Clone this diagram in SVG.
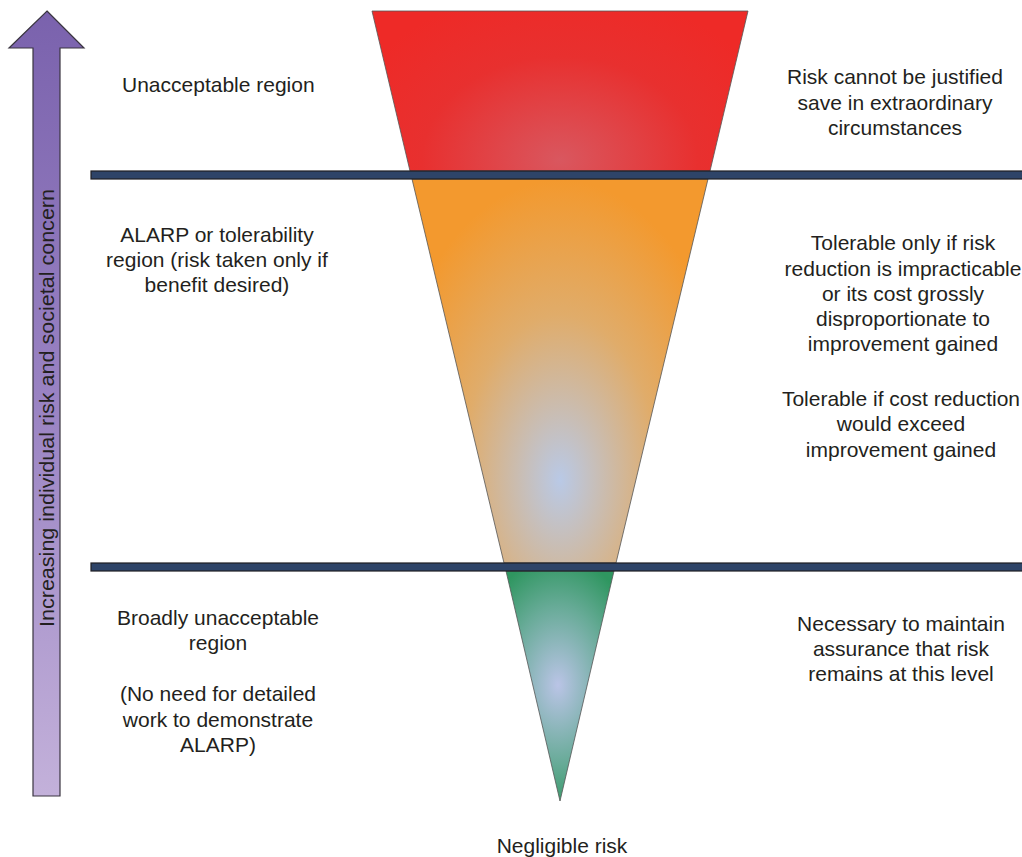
<svg xmlns="http://www.w3.org/2000/svg" width="1022" height="857" viewBox="0 0 1022 857">
<defs>
<style>
.t{font-family:"Liberation Sans",Arial,sans-serif;font-size:21px;fill:#231f20}
.c{text-anchor:middle}
.bar{fill:#2e4468;stroke:#1e1e24;stroke-width:1.2}
.cone{stroke:#555;stroke-width:0.8}
</style>
<radialGradient id="gRed" cx="560" cy="160" r="230" gradientUnits="userSpaceOnUse" gradientTransform="translate(560 160) scale(1 0.75) translate(-560 -160)">
<stop offset="0" stop-color="#d9575f"/>
<stop offset="0.6" stop-color="#e8302f"/>
<stop offset="1" stop-color="#ee2a27"/>
</radialGradient>
<radialGradient id="gOr" cx="560" cy="480" r="300" gradientUnits="userSpaceOnUse" gradientTransform="translate(560 480) scale(0.6 1) translate(-560 -480)">
<stop offset="0" stop-color="#b9c9e6"/>
<stop offset="0.55" stop-color="#e0ac6a"/>
<stop offset="1" stop-color="#f3992e"/>
</radialGradient>
<radialGradient id="gGr" cx="558" cy="685" r="130" gradientUnits="userSpaceOnUse" gradientTransform="translate(558 685) scale(0.65 1) translate(-558 -685)">
<stop offset="0" stop-color="#bac4e6"/>
<stop offset="0.6" stop-color="#68ab98"/>
<stop offset="1" stop-color="#2f9660"/>
</radialGradient>
<linearGradient id="gArr" x1="0" y1="11" x2="0" y2="796" gradientUnits="userSpaceOnUse">
<stop offset="0" stop-color="#7a62ad"/>
<stop offset="0.5" stop-color="#9a83c3"/>
<stop offset="1" stop-color="#c3b1da"/>
</linearGradient>
</defs>

<g id="arrow">
<polygon points="47,11 84,48 60,48 60,796 33,796 33,48 9,48" fill="url(#gArr)" stroke="#3a3540" stroke-width="1.2"/>
<text class="t c" transform="translate(54 408) rotate(-90)" textLength="438" lengthAdjust="spacingAndGlyphs">Increasing individual risk and societal concern</text>
</g>

<g id="cone">
<polygon id="red" class="cone" points="372,11 748,11 710,171 410,171" fill="url(#gRed)"/>
<polygon id="orange" class="cone" points="412,179 708,179 616,563 504,563" fill="url(#gOr)"/>
<polygon id="green" class="cone" points="506,571 614,571 560,801" fill="url(#gGr)"/>
</g>

<g id="bars">
<rect class="bar" x="91" y="171" width="932" height="8"/>
<rect class="bar" x="91" y="563" width="932" height="8"/>
</g>

<g id="left-texts">
<text class="t" x="122" y="92">Unacceptable region</text>
<text class="t c" x="217" y="242">ALARP or tolerability</text>
<text class="t c" x="217" y="267">region (risk taken only if</text>
<text class="t c" x="217" y="292">benefit desired)</text>
<text class="t c" x="218" y="625">Broadly unacceptable</text>
<text class="t c" x="218" y="650">region</text>
<text class="t c" x="218" y="701">(No need for detailed</text>
<text class="t c" x="218" y="727">work to demonstrate</text>
<text class="t c" x="218" y="752">ALARP)</text>
</g>

<g id="right-texts">
<text class="t c" x="895" y="84">Risk cannot be justified</text>
<text class="t c" x="895" y="110">save in extraordinary</text>
<text class="t c" x="895" y="135">circumstances</text>
<text class="t c" x="903" y="250">Tolerable only if risk</text>
<text class="t c" x="903" y="276">reduction is impracticable</text>
<text class="t c" x="903" y="301">or its cost grossly</text>
<text class="t c" x="903" y="326">disproportionate to</text>
<text class="t c" x="903" y="351">improvement gained</text>
<text class="t c" x="901" y="406">Tolerable if cost reduction</text>
<text class="t c" x="901" y="431">would exceed</text>
<text class="t c" x="901" y="457">improvement gained</text>
<text class="t c" x="901" y="631">Necessary to maintain</text>
<text class="t c" x="901" y="656">assurance that risk</text>
<text class="t c" x="901" y="681">remains at this level</text>
</g>

<g id="bottom">
<text class="t c" x="562" y="853">Negligible risk</text>
</g>
</svg>
